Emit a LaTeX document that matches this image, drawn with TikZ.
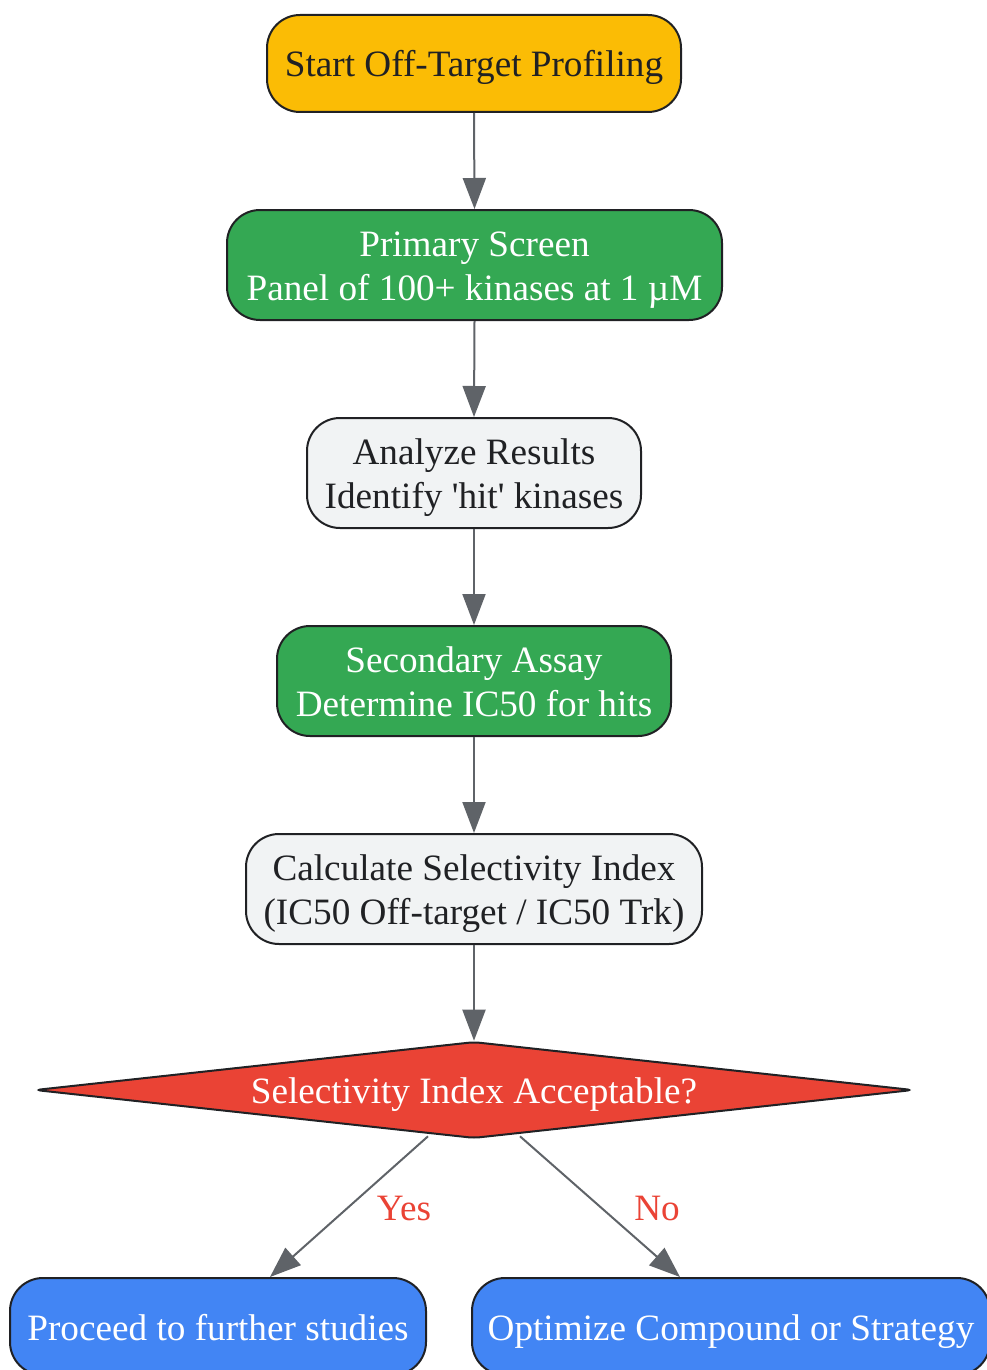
\documentclass[tikz,border=0pt]{standalone}
\usepackage{fontspec}
\setmainfont{Liberation Serif}
\usetikzlibrary{arrows.meta,shapes.geometric,calc}
\newcommand{\sq}{\XeTeXglyph\XeTeXcharglyph"0027\relax}
\definecolor{cyellow}{HTML}{FBBC05}
\definecolor{cgreen}{HTML}{34A853}
\definecolor{cgray}{HTML}{F1F3F4}
\definecolor{cred}{HTML}{EA4335}
\definecolor{cblue}{HTML}{4285F4}
\definecolor{cdark}{HTML}{202124}
\definecolor{cedge}{HTML}{5F6368}
\begin{document}
\begin{tikzpicture}[x=1pt,y=-1pt,
  every node/.style={font=\fontsize{37.2}{44}\selectfont, align=center, inner sep=0pt, text height=37pt, text depth=10pt},
  box/.style={draw=cdark, line width=2pt, rounded corners=33pt, minimum height=110pt},
  twoline/.style={text height=81pt},
  startbox/.style={box, fill=cyellow, text=cdark, minimum height=97pt},
  greenbox/.style={box, twoline, fill=cgreen, text=white},
  graybox/.style={box, twoline, fill=cgray, text=cdark},
  bluebox/.style={box, fill=cblue, text=white, minimum height=97pt},
  decide/.style={diamond, aspect=9, draw=cdark, line width=2pt, fill=cred, text=white, rounded corners=6pt},
  conn/.style={draw=cedge, line width=2pt, -{Triangle[length=31pt,width=23pt]}},
  lbl/.style={text=cred}
]
\useasboundingbox (0,0) rectangle (986,1370);
\node[startbox, minimum width=414pt] (s) at (474,63.5) {Start Off-Target Profiling};
\node[greenbox, minimum width=495pt] (p) at (474.5,265) {Primary Screen\\Panel of 100+ kinases at 1 µM};
\node[graybox, minimum width=334pt] (a) at (474,473) {Analyze Results\\Identify \sq hit\sq{} kinases};
\node[greenbox, minimum width=394pt] (sa) at (474,681) {Secondary Assay\\Determine IC50 for hits};
\node[graybox, minimum width=456pt] (c) at (474,889) {Calculate Selectivity Index\\(IC50 Off-target / IC50 Trk)};
\node[decide, minimum width=878pt, minimum height=94pt] (d) at (474,1090) {Selectivity Index Acceptable?};
\node[bluebox, minimum width=416pt] (y) at (218,1326.5) {Proceed to further studies};
\node[bluebox, minimum width=518pt] (n) at (731,1326.5) {Optimize Compound or Strategy};

\draw[conn] (s.south) -- (p.north);
\draw[conn] (p.south) -- (a.north);
\draw[conn] (a.south) -- (sa.north);
\draw[conn] (sa.south) -- (c.north);
\draw[conn] (c.south) -- (d.north);
\draw[conn] ($(d.south)+(-46,-3)$) -- node[lbl, pos=0.5, xshift=55pt] {Yes} ($(y.north)+(52,0)$);
\draw[conn] ($(d.south)+(46,-3)$) -- node[lbl, pos=0.5, xshift=57pt] {No} ($(n.north)+(-51,0)$);
\end{tikzpicture}
\end{document}
